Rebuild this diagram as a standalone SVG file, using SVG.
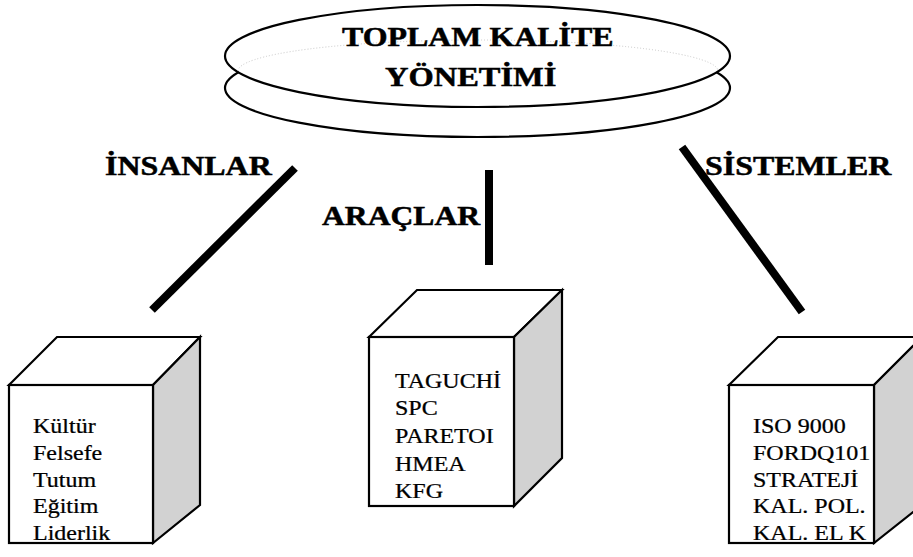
<svg xmlns="http://www.w3.org/2000/svg" width="913" height="557" viewBox="0 0 913 557">
  <style>
    .outline { fill: #ffffff; stroke: #000000; stroke-width: 2.2; stroke-linejoin: miter; }
    .side { fill: #d2d2d2; stroke: #000000; stroke-width: 2.2; stroke-linejoin: miter; }
    .head { font-family: "Liberation Serif", "Times New Roman", serif; font-weight: bold; font-size: 28px; fill: #000000; stroke: #000000; stroke-width: 0.5; }
    .item { font-family: "Liberation Serif", "Times New Roman", serif; font-size: 20px; fill: #000000; stroke: #000000; stroke-width: 0.25; }
    .link { stroke: #000000; stroke-width: 8; stroke-linecap: butt; fill: none; }
    .hidden { fill: none; stroke: #c8c8c8; stroke-width: 1; stroke-dasharray: 1 2; }
  </style>
  <rect width="913" height="557" fill="#ffffff"/>

  <!-- Central disc: two stacked ellipses -->
  <g id="tkm">
    <ellipse class="outline" cx="477.5" cy="88" rx="252.5" ry="49"/>
    <ellipse class="outline" cx="477.5" cy="56" rx="252.5" ry="51"/>
    <path class="hidden" d="M 238 71 A 240 31 0 0 1 718 71"/>
    <text class="head" transform="translate(342,46) scale(1.14,1)">TOPLAM KALİTE</text>
    <text class="head" transform="translate(385,86) scale(1.16,1)">YÖNETİMİ</text>
  </g>

  <!-- Connectors from the disc down to the three boxes -->
  <g id="connectors">
    <line class="link" x1="295" y1="168" x2="152" y2="310"/>
    <line class="link" x1="489" y1="170" x2="489" y2="265"/>
    <line class="link" x1="682" y1="147" x2="802" y2="312"/>
  </g>

  <!-- Branch labels -->
  <g id="labels">
    <text class="head" transform="translate(105,175) scale(1.14,1)">İNSANLAR</text>
    <text class="head" transform="translate(322,225) scale(1.13,1)">ARAÇLAR</text>
    <text class="head" transform="translate(705,175) scale(1.14,1)">SİSTEMLER</text>
  </g>

  <!-- People box -->
  <g id="insanlar">
    <polygon class="outline" points="9,385 57,337 200,337 153,385"/>
    <polygon class="side" points="153,385 200,337 200,505 153,543"/>
    <rect class="outline" x="9" y="385" width="144" height="158"/>
    <text class="item" transform="translate(33,433) scale(1.2,1)">Kültür</text>
    <text class="item" transform="translate(33,460) scale(1.2,1)">Felsefe</text>
    <text class="item" transform="translate(33,487) scale(1.2,1)">Tutum</text>
    <text class="item" transform="translate(33,513) scale(1.2,1)">Eğitim</text>
    <text class="item" transform="translate(33,540) scale(1.2,1)">Liderlik</text>
  </g>

  <!-- Tools box -->
  <g id="araclar">
    <polygon class="outline" points="369,337 417,290 562,290 514,337"/>
    <polygon class="side" points="514,337 562,290 562,458 514,506"/>
    <rect class="outline" x="369" y="337" width="145" height="169"/>
    <text class="item" transform="translate(395,388) scale(1.2,1)">TAGUCHİ</text>
    <text class="item" transform="translate(395,415) scale(1.2,1)">SPC</text>
    <text class="item" transform="translate(395,443) scale(1.2,1)">PARETOI</text>
    <text class="item" transform="translate(395,471) scale(1.2,1)">HMEA</text>
    <text class="item" transform="translate(395,498) scale(1.2,1)">KFG</text>
  </g>

  <!-- Systems box -->
  <g id="sistemler">
    <polygon class="outline" points="729,385 778,337 922,337 874,385"/>
    <polygon class="side" points="874,385 922,337 922,505 874,543"/>
    <rect class="outline" x="729" y="385" width="145" height="158"/>
    <text class="item" transform="translate(753,433) scale(1.2,1)">ISO 9000</text>
    <text class="item" transform="translate(753,460) scale(1.2,1)">FORDQ101</text>
    <text class="item" transform="translate(753,487) scale(1.2,1)">STRATEJİ</text>
    <text class="item" transform="translate(753,513) scale(1.2,1)">KAL. POL.</text>
    <text class="item" transform="translate(753,540) scale(1.2,1)">KAL. EL K</text>
  </g>
</svg>
